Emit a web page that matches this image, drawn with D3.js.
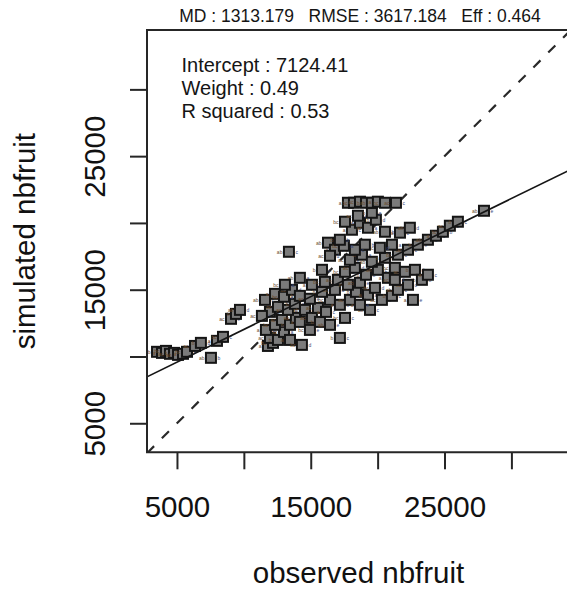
<!DOCTYPE html>
<html>
<head>
<meta charset="utf-8">
<script src="https://cdn.jsdelivr.net/npm/d3@7"></script>
<style>
  html, body { margin: 0; padding: 0; background: #ffffff; }
  svg { display: block; font-family: "Liberation Sans", Arial, Helvetica, sans-serif; }
</style>
</head>
<body>
<svg id="chart" width="567" height="590"></svg>
<script>
// Observed vs simulated number of fruits
const observed = [
  3510, 3880, 4180, 4480, 4780, 5080, 5450, 5750, 6350, 6790,
  7540, 7990, 8440, 9040, 9410, 9710, 11800, 12180, 11950, 12550,
  13000, 11650, 12330, 12850, 13450, 13890, 11950, 12550, 13300, 13820,
  11580, 12330, 13000, 13600, 14190, 14570, 14190, 14940, 15090, 15690,
  15540, 16140, 16440, 14940, 15840, 16810, 17180, 17560, 17930, 18380,
  14190, 15090, 16060, 17030, 17780, 18680, 19280, 19800, 20320, 21070,
  21520, 22640, 17560, 18300, 19130, 20020, 20770, 21290, 22040, 22790,
  23310, 23760, 22270, 17930, 18830, 19570, 20550, 21520, 22270, 23010,
  23760, 24360, 24880, 25400, 26000, 27950, 21070, 20170, 19050, 18300,
  16290, 16810, 17480, 16440, 17180, 13370, 18080, 18680, 19280, 19870,
  20550, 21670, 17560, 18530, 19570, 22410, 17780, 18230, 18680, 19130,
  19570, 20020, 20550, 21370, 17180, 16440, 13450, 14340, 11350, 15840,
  19430, 18680, 13070, 21290
];
const simulated = [
  10350, 10270, 10420, 10200, 10270, 10120, 10200, 10350, 10790, 11020,
  9900, 11170, 11470, 12820, 13190, 13490, 10790, 11020, 11390, 11240,
  11840, 11990, 12370, 12740, 12370, 12890, 13340, 13720, 13490, 13940,
  14240, 14690, 14470, 14990, 14540, 13490, 12590, 11990, 12890, 12590,
  13640, 13340, 14240, 14320, 14840, 14990, 13870, 12890, 14240, 14840,
  15890, 15370, 15590, 15740, 15370, 15520, 14620, 15140, 14240, 14540,
  14990, 14240, 16340, 16640, 16120, 16490, 15890, 16640, 16340, 16490,
  15740, 16120, 15370, 17240, 17620, 17090, 17390, 17620, 17990, 18370,
  18740, 19040, 19340, 19790, 20090, 20910, 18370, 18140, 18370, 17990,
  18520, 17990, 18290, 17540, 18740, 17840, 19490, 20010, 19640, 20240,
  19340, 19270, 20090, 20540, 20760, 19640, 21510, 21510, 21590, 21510,
  21510, 21590, 21510, 21510, 11390, 12370, 11240, 10870, 13040, 16490,
  13490, 13870, 15370, 15740
];
// small identifiers printed beside each point
const tagsLeft = ["ab", "a", "bc", "ac", "b"];
const tagsRight = ["c", "e", "a", "d", "b", "c"];

const xTicks = [5000, 10000, 15000, 20000, 25000, 30000];
const yTicks = [5000, 10000, 15000, 20000, 25000, 30000];
const labelledTicks = [5000, 15000, 25000];

const fitIntercept = 7124.41;
const fitWeight = 0.49;
const fitRsquared = 0.53;
const statMD = "1313.179", statRMSE = "3617.184", statEff = "0.464";

const xTitle = "observed nbfruit";
const yTitle = "simulated nbfruit";

const svg = d3.select("#chart");

const box = { left: 147, top: 30, right: 570, bottom: 452.3 };
const x = d3.scaleLinear().domain([2760, 34380]).range([box.left, box.right]);
const y = d3.scaleLinear().domain([2826, 34445]).range([box.bottom, box.top]);

const ink = "#151515";

// clip for everything drawn inside the plotting region
svg.append("defs").append("clipPath").attr("id", "plotClip")
  .append("rect")
  .attr("x", box.left).attr("y", box.top)
  .attr("width", box.right - box.left).attr("height", box.bottom - box.top);

const plot = svg.append("g").attr("clip-path", "url(#plotClip)");

// 1:1 line
const dom = [Math.min(x.domain()[0], y.domain()[0]), Math.max(x.domain()[1], y.domain()[1])];
plot.append("line")
  .attr("x1", x(dom[0])).attr("y1", y(dom[0]))
  .attr("x2", x(dom[1])).attr("y2", y(dom[1]))
  .attr("stroke", "#2a2a2a").attr("stroke-width", 2.2)
  .attr("stroke-dasharray", "10,11");

// points
const pts = observed.map((o, i) => ({ o, s: simulated[i], i }));
const g = plot.selectAll("g.pt").data(pts).join("g").attr("class", "pt")
  .attr("transform", d => `translate(${x(d.o)},${y(d.s)})`);
g.append("text")
  .attr("x", -6.5).attr("y", 2)
  .attr("text-anchor", "end")
  .attr("font-size", 5).attr("fill", "#6a4a2a")
  .text(d => tagsLeft[d.i % tagsLeft.length]);
g.append("text")
  .attr("x", 6.5).attr("y", 2)
  .attr("text-anchor", "start")
  .attr("font-size", 5).attr("fill", "#3a4a7a")
  .text(d => tagsRight[d.i % tagsRight.length]);
g.append("rect")
  .attr("x", -5).attr("y", -5).attr("width", 10).attr("height", 10)
  .attr("fill", "#7b7b7b").attr("stroke", ink).attr("stroke-width", 2);

// regression line
plot.append("line")
  .attr("x1", x(x.domain()[0])).attr("y1", y(fitIntercept + fitWeight * x.domain()[0]))
  .attr("x2", x(x.domain()[1])).attr("y2", y(fitIntercept + fitWeight * x.domain()[1]))
  .attr("stroke", ink).attr("stroke-width", 1.6);

// frame (right side runs off the page)
svg.append("path")
  .attr("d", `M${box.right},${box.top}H${box.left}V${box.bottom}H${box.right}`)
  .attr("fill", "none").attr("stroke", "#262626").attr("stroke-width", 2);

// axes
const xAxis = d3.axisBottom(x).tickValues(xTicks).tickSize(17)
  .tickFormat(d => labelledTicks.includes(d) ? String(d) : "");
const gx = svg.append("g").attr("transform", `translate(0,${box.bottom})`).call(xAxis);
gx.select(".domain").remove();
gx.selectAll(".tick line").attr("stroke", "#262626").attr("stroke-width", 2);
gx.selectAll(".tick text")
  .attr("y", 64.7).attr("dy", 0)
  .attr("font-size", 29.5).attr("fill", "#111")
  .attr("font-family", "'Liberation Sans', Arial, sans-serif");

const yAxis = d3.axisLeft(y).tickValues(yTicks).tickSize(17)
  .tickFormat(d => labelledTicks.includes(d) ? String(d) : "");
const gy = svg.append("g").attr("transform", `translate(${box.left},0)`).call(yAxis);
gy.select(".domain").remove();
gy.selectAll(".tick line").attr("stroke", "#262626").attr("stroke-width", 2);
gy.selectAll(".tick text")
  .attr("x", 0).attr("dy", 0)
  .attr("transform", `translate(${105 - box.left},0) rotate(-90)`)
  .attr("text-anchor", "middle")
  .attr("font-size", 29.5).attr("fill", "#111")
  .attr("font-family", "'Liberation Sans', Arial, sans-serif");

// axis titles
svg.append("text")
  .attr("x", (box.left + box.right) / 2).attr("y", 583)
  .attr("text-anchor", "middle").attr("font-size", 29.5).attr("fill", "#111")
  .text(xTitle);
svg.append("text")
  .attr("transform", `translate(35,${(box.top + box.bottom) / 2}) rotate(-90)`)
  .attr("text-anchor", "middle").attr("font-size", 29.5).attr("fill", "#111")
  .text(yTitle);

// summary statistics above the frame
svg.append("text")
  .attr("x", 360).attr("y", 22)
  .attr("text-anchor", "middle").attr("font-size", 17.5).attr("fill", "#151515")
  .style("white-space", "pre")
  .text(`MD : ${statMD}   RMSE : ${statRMSE}   Eff : ${statEff}`);

// regression summary
const fitLines = [
  `Intercept : ${fitIntercept.toFixed(2)}`,
  `Weight : ${fitWeight.toFixed(2)}`,
  `R squared : ${fitRsquared.toFixed(2)}`
];
svg.append("g").selectAll("text").data(fitLines).join("text")
  .attr("x", 181.5).attr("y", (d, i) => 71.7 + i * 23.3)
  .attr("font-size", 20).attr("fill", "#151515")
  .text(d => d);
</script>
</body>
</html>
